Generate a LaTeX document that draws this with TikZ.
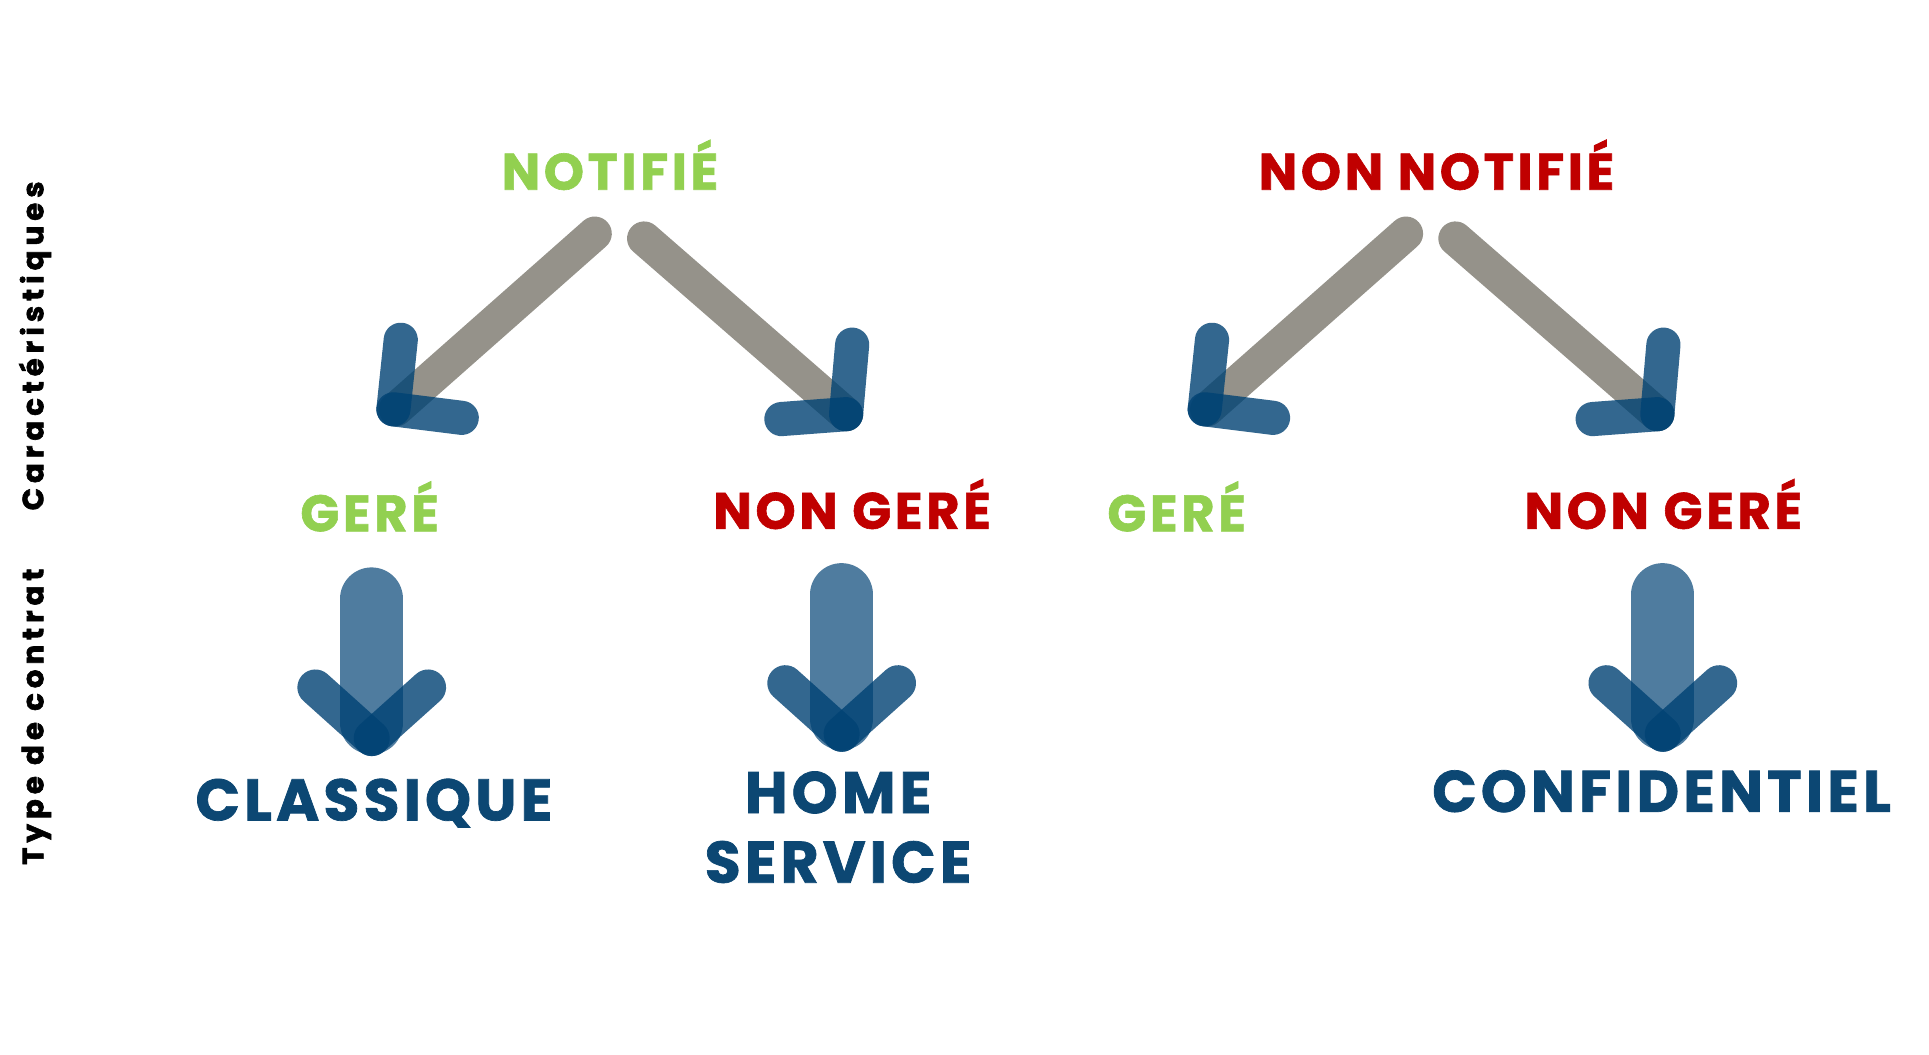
\documentclass[tikz,border=0pt]{standalone}
\usepackage{fontspec}
\setmainfont{Liberation Sans}
\newfontfamily\heavy{Poppins}[LetterSpace=7, BoldFeatures={FakeBold=1.2}]
\newfontfamily\sidefont{Poppins}[LetterSpace=17, BoldFeatures={FakeBold=2}]
\definecolor{greenc}{HTML}{92D050}
\definecolor{redc}{HTML}{C00000}
\definecolor{navyc}{HTML}{0C4773}
\definecolor{bluec}{RGB}{0,66,116}
\definecolor{greyc}{HTML}{95928A}
\begin{document}
\begin{tikzpicture}[x=1pt,y=-1pt,
  lbl/.style={inner sep=0, anchor=base, font=\heavy\bfseries\fontsize{42}{42}\selectfont},
  biglbl/.style={inner sep=0, anchor=base, text=navyc, font=\heavy\bfseries\fontsize{48}{48}\selectfont},
  sidelbl/.style={inner sep=0, anchor=base, rotate=90, text=black, font=\sidefont\bfseries\fontsize{24}{24}\selectfont},
  greyline/.style={line width=28, line cap=round, draw=greyc},
  headline/.style={line width=28, line cap=round, draw=bluec, draw opacity=0.8},
  shaftline/.style={line width=51.6, line cap=round, draw=bluec, draw opacity=0.69},
  chevline/.style={line width=29.5, line cap=round, draw=bluec, draw opacity=0.8}]
\useasboundingbox (-2.5,-2.5) rectangle (1578.7,861.5);
\fill[white] (-2.5,-2.5) rectangle (1578.7,861.5);

% side labels
\node[sidelbl] (car) at (33,281) {Caractéristiques};
\node[sidelbl] (typ) at (33,585) {Type de contrat};

% top labels
\node[lbl,text=greenc] (notif) at (497.5,153) {NOTIFIÉ};
\node[lbl,text=redc] (nonnotif) at (1175,153) {NON NOTIFIÉ};

% second row labels
\node[lbl,text=greenc] (g1) at (300.5,433) {GERÉ};
\node[lbl,text=redc] (ng1) at (696,431) {NON GERÉ};
\node[lbl,text=greenc] (g2) at (962,433) {GERÉ};
\node[lbl,text=redc] (ng2) at (1361,431) {NON GERÉ};

% contract labels
\node[biglbl] (classique) at (304,670) {CLASSIQUE};
\node[biglbl] (home) at (684.5,664) {HOME};
\node[biglbl] (service) at (684.5,721) {SERVICE};
\node[biglbl] (confid) at (1359.5,663) {CONFIDENTIEL};

% coordinates of the diagonal arrows
\foreach \dx/\n in {0/a,665/b}{
  \coordinate (\n Ls) at (485+\dx,189);
  \coordinate (\n Le) at (322+\dx,333);
  \coordinate (\n Lt) at (326+\dx,276);
  \coordinate (\n Lc) at (320+\dx,333);
  \coordinate (\n Lr) at (376+\dx,340);
  \coordinate (\n Rs) at (525.5+\dx,193);
  \coordinate (\n Re) at (691+\dx,337);
  \coordinate (\n Rt) at (696+\dx,280);
  \coordinate (\n Rc) at (691+\dx,337);
  \coordinate (\n Rl) at (638+\dx,341);
  \draw[greyline] (\n Ls) -- (\n Le);
  \draw[greyline] (\n Rs) -- (\n Re);
  \draw[headline] (\n Lt) -- (\n Lc);
  \draw[headline] (\n Lc) -- (\n Lr);
  \draw[headline] (\n Rt) -- (\n Rc);
  \draw[headline] (\n Rc) -- (\n Rl);
}

% big down arrows
\foreach \cx/\dy/\n in {302.2/0/p,687.4/-3.5/q,1360.5/-3.5/r}{
  \coordinate (\n top) at (\cx,488.4+\dy);
  \coordinate (\n bot) at (\cx,590+\dy);
  \coordinate (\n l) at (\cx-46.2,561+\dy);
  \coordinate (\n v) at (\cx,602.5+\dy);
  \coordinate (\n r) at (\cx+46.2,561+\dy);
  \draw[shaftline] (\n top) -- (\n bot);
  \draw[chevline] (\n l) -- (\n v);
  \draw[chevline] (\n r) -- (\n v);
}
\end{tikzpicture}
\end{document}
